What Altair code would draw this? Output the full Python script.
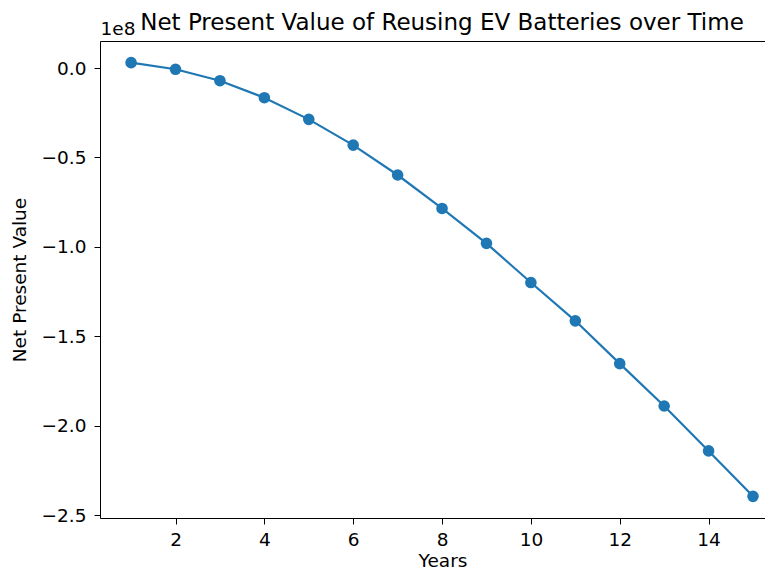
import altair as alt
import pandas as pd

# ---- data ----
years = list(range(1, 16))
npv = [3.0e6, -0.7e6, -7.1e6, -16.6e6, -28.7e6, -43.1e6, -59.8e6, -78.5e6,
       -98.0e6, -119.9e6, -141.3e6, -165.2e6, -188.9e6, -214.0e6, -239.4e6]
x_ticks = [2, 4, 6, 8, 10, 12, 14]
y_ticks = [0.0, -0.5e8, -1.0e8, -1.5e8, -2.0e8, -2.5e8]
title_text = ["Net Present Value of Reusing EV Batteries over Time"]
x_title = "Years"
y_title = "Net Present Value"
offset_label = ["1e8"]

df = pd.DataFrame({"Years": years, "NPV": npv})
lab_df = pd.DataFrame({"t": offset_label})
title_df = pd.DataFrame({"t": title_text})

FONT = "DejaVu Sans"
BLUE = "#1f77b4"
FS = 18.5

x_scale = alt.Scale(domain=[0.3, 15.27], nice=False, zero=False)
y_scale = alt.Scale(domain=[-2.515e8, 0.151e8], nice=False, zero=False)

y_axis = alt.Axis(
    values=y_ticks, grid=False, tickSize=6, labelPadding=8,
    labelExpr="replace(format(datum.value / 1e8, '.1f'), '-', '\u2212')",
    labelFontSize=FS, labelFont=FONT, labelColor="black",
    domainColor="black", tickColor="black",
    title=y_title, titleFontSize=FS, titleFont=FONT, titleColor="black",
    titleFontWeight="normal", titleAngle=270, titleX=-80.5, titleY=238.5,
    titleAlign="center", titleBaseline="middle",
)

x_axis = alt.Axis(
    values=x_ticks, grid=False, tickSize=6, labelPadding=6, format="d",
    labelFontSize=FS, labelFont=FONT, labelColor="black",
    domainColor="black", tickColor="black",
    title=x_title, titleFontSize=FS, titleFont=FONT, titleColor="black",
    titleFontWeight="normal", titleX=342.5, titleY=48.5,
    titleAlign="center", titleBaseline="alphabetic",
)

top_axis = alt.Axis(
    orient="top", grid=False, ticks=False, labels=False, title=None,
    domain=True, domainColor="black",
)

line = alt.Chart(df).mark_line(color=BLUE, strokeWidth=2.2).encode(
    x=alt.X("Years:Q", scale=x_scale, axis=x_axis),
    y=alt.Y("NPV:Q", scale=y_scale, axis=y_axis),
)

points = alt.Chart(df).mark_circle(color=BLUE, size=135, opacity=1).encode(
    x=alt.X("Years:Q", scale=x_scale, axis=top_axis),
    y=alt.Y("NPV:Q", scale=y_scale, axis=y_axis),
)

offset_text = alt.Chart(lab_df).mark_text(
    align="left", baseline="alphabetic", fontSize=FS, font=FONT, color="black"
).encode(
    text="t:N",
    x=alt.value(0.5),
    y=alt.value(-6),
)

title_mark = alt.Chart(title_df).mark_text(
    align="center", baseline="alphabetic", fontSize=23, font=FONT, color="black"
).encode(
    text="t:N",
    x=alt.value(342),
    y=alt.value(-11),
)

chart = alt.layer(line, points, offset_text, title_mark).resolve_axis(x="independent").properties(
    width=665,
    height=477,
    autosize=alt.AutoSizeParams(type="none"),
    padding={"left": 92, "top": 33, "right": 0, "bottom": 52},
).configure_view(stroke=None).configure(font=FONT)

chart.save("out.html", embed_options={"renderer": "svg", "actions": False})
